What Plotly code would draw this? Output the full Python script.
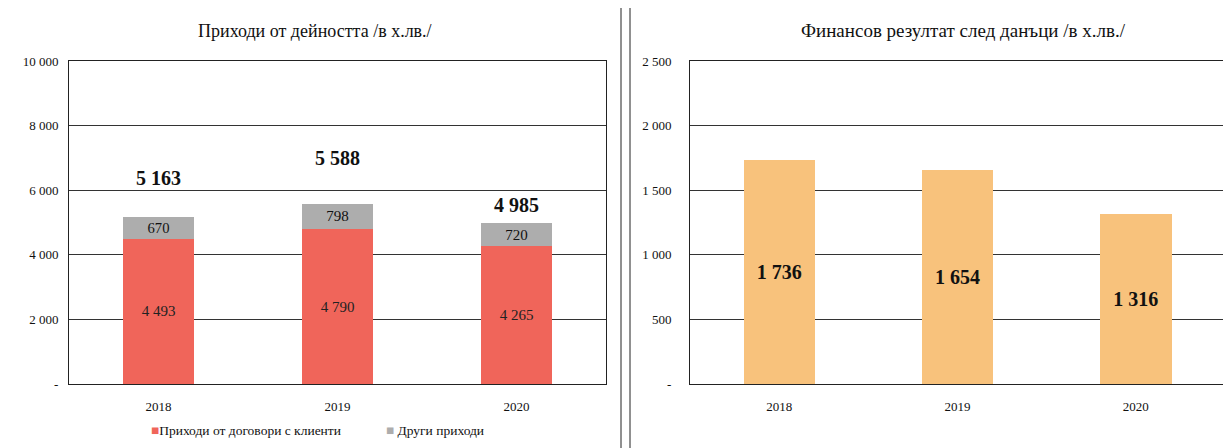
import plotly.graph_objects as go

years = ["2018", "2019", "2020"]
contracts = [4493, 4790, 4265]
other = [670, 798, 720]
totals = [5163, 5588, 4985]
profit = [1736, 1654, 1316]

left_ticks = [0, 2000, 4000, 6000, 8000, 10000]
left_ticktext = ["-", "2 000", "4 000", "6 000", "8 000", "10 000"]
right_ticks = [0, 500, 1000, 1500, 2000, 2500]
right_ticktext = ["-", "500", "1 000", "1 500", "2 000", "2 500"]

total_shift = [26, 33, 5]

def fmt(v):
    return f"{v:,}".replace(",", " ")

RED = "#F0655A"
GREY = "#ADADAD"
ORANGE = "#F8C27C"
FONT = "Liberation Serif"

# page body has an 8px default margin; size the figure to fit the window
OFF = 8
W, H = 1231 - OFF, 448 - OFF

px_x = lambda p: (p - OFF) / W
px_y = lambda p: 1 - (p - OFF) / H

fig = go.Figure()

fig.add_trace(go.Bar(
    x=years, y=contracts, name="Приходи от договори с клиенти",
    marker=dict(color=RED, line=dict(width=0)), width=0.4,
    text=[fmt(v) for v in contracts], textposition="inside",
    insidetextanchor="middle", textangle=0,
    textfont=dict(family=FONT, size=15, color="#222"),
    xaxis="x", yaxis="y",
))
fig.add_trace(go.Bar(
    x=years, y=other, name="Други приходи",
    marker=dict(color=GREY, line=dict(width=0)), width=0.4,
    text=[fmt(v) for v in other], textposition="inside",
    insidetextanchor="middle", textangle=0,
    textfont=dict(family=FONT, size=15, color="#111"),
    xaxis="x", yaxis="y",
))
fig.add_trace(go.Bar(
    x=years, y=profit, name="Финансов резултат",
    marker=dict(color=ORANGE, line=dict(width=0)), width=0.4,
    text=[fmt(v) for v in profit], textposition="inside",
    insidetextanchor="middle", textangle=0,
    textfont=dict(family=FONT, size=20, color="#111", weight="bold"),
    xaxis="x2", yaxis="y2",
))

for i, (t, s) in enumerate(zip(totals, total_shift)):
    fig.add_annotation(
        x=i, y=t, xref="x", yref="y", yshift=s, showarrow=False,
        text=fmt(t), yanchor="bottom",
        font=dict(family=FONT, size=20, color="#111", weight="bold"),
    )

fig.add_annotation(x=px_x(315), y=px_y(31), xref="paper", yref="paper",
                   xanchor="center", yanchor="middle",
                   text="Приходи от дейността /в х.лв./", showarrow=False,
                   font=dict(family=FONT, size=18, color="#111"))
fig.add_annotation(x=px_x(963), y=px_y(31), xref="paper", yref="paper",
                   xanchor="center", yanchor="middle",
                   text="Финансов резултат след данъци /в х.лв./", showarrow=False,
                   font=dict(family=FONT, size=19, color="#111"))

# legend (compact, as in the reference)
fig.add_annotation(x=px_x(149), y=px_y(430), xref="paper", yref="paper",
                   xanchor="left", yanchor="middle", showarrow=False,
                   text=f"<span style='color:{RED}'>■</span>Приходи от договори с клиенти",
                   font=dict(family=FONT, size=13.5, color="#111"))
fig.add_annotation(x=px_x(384), y=px_y(430), xref="paper", yref="paper",
                   xanchor="left", yanchor="middle", showarrow=False,
                   text=f"<span style='color:{GREY}'>■</span> Други приходи",
                   font=dict(family=FONT, size=13.5, color="#111"))

axis_common = dict(
    showline=True, linecolor="#222", linewidth=1, mirror=True, automargin=False,
    ticks="", tickfont=dict(family=FONT, size=13, color="#111"),
)

fig.update_layout(
    width=W, height=H,
    margin=dict(l=0, r=0, t=0, b=0, autoexpand=False),
    paper_bgcolor="white", plot_bgcolor="white",
    barmode="stack",
    showlegend=False,
    xaxis=dict(domain=[px_x(69), px_x(606)], anchor="y", type="category",
               range=[-0.5, 2.5], ticklabelstandoff=10, **axis_common),
    yaxis=dict(domain=[px_y(384), px_y(61)], anchor="x", range=[0, 10000],
               tickvals=left_ticks, ticktext=left_ticktext, ticklabelstandoff=7,
               showgrid=True, gridcolor="#333", gridwidth=1, zeroline=False,
               **axis_common),
    xaxis2=dict(domain=[px_x(690), px_x(1225)], anchor="y2", type="category",
                range=[-0.5, 2.5], ticklabelstandoff=10, **axis_common),
    yaxis2=dict(domain=[px_y(384), px_y(61)], anchor="x2", range=[0, 2500],
                tickvals=right_ticks, ticktext=right_ticktext, ticklabelstandoff=15,
                showgrid=True, gridcolor="#333", gridwidth=1, zeroline=False,
                **axis_common),
)

for xp in (621, 630):
    fig.add_shape(type="line", xref="paper", yref="paper",
                  x0=px_x(xp), x1=px_x(xp), y0=0, y1=1,
                  line=dict(color="#222", width=1))

fig.write_html("out.html")
